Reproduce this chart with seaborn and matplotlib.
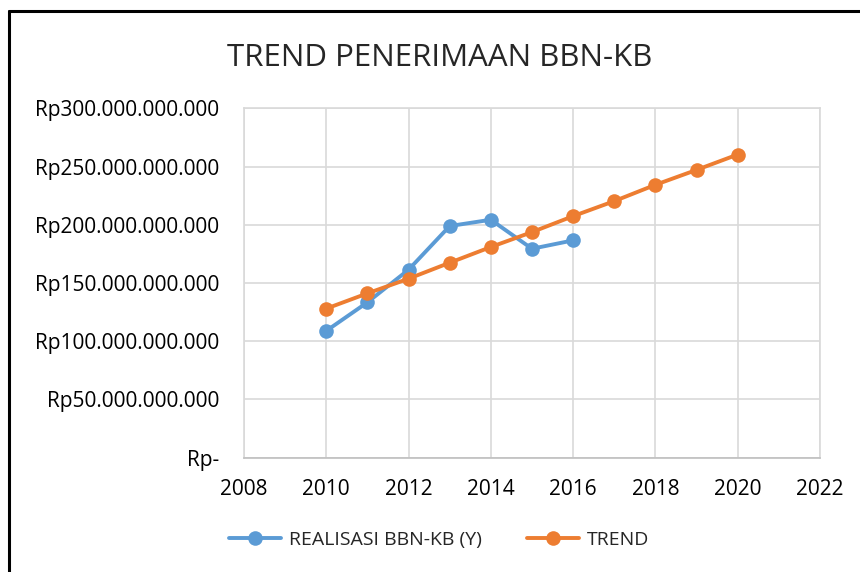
import matplotlib

matplotlib.use("Agg")
import matplotlib.pyplot as plt
from matplotlib.lines import Line2D
from matplotlib.ticker import FuncFormatter, MultipleLocator
import pandas as pd
import seaborn as sns

TITLE = "TREND PENERIMAAN BBN-KB"

REAL_YEARS = [2010, 2011, 2012, 2013, 2014, 2015, 2016]
REAL_VALUES = [108.9e9, 133.4e9, 161.4e9, 198.9e9, 204.3e9, 179.4e9, 186.6e9]

TREND_YEARS = [2010, 2011, 2012, 2013, 2014, 2015, 2016, 2017, 2018, 2019, 2020]
TREND_VALUES = [128.0e9, 141.1e9, 153.7e9, 167.4e9, 180.9e9, 193.7e9,
                207.4e9, 220.3e9, 234.3e9, 247.1e9, 260.3e9]

LABEL_REAL = "REALISASI BBN-KB (Y)"
LABEL_TREND = "TREND"
PALETTE = {LABEL_REAL: "#5B9BD5", LABEL_TREND: "#ED7D31"}


def rupiah(v, _pos=None):
    if v == 0:
        return "Rp-"
    return "Rp" + f"{v:,.0f}".replace(",", ".")


sns.set_theme(style="white")
plt.rcParams["font.family"] = ["Open Sans", "DejaVu Sans"]

df = pd.concat(
    [
        pd.DataFrame({"year": REAL_YEARS, "value": REAL_VALUES, "series": LABEL_REAL}),
        pd.DataFrame({"year": TREND_YEARS, "value": TREND_VALUES, "series": LABEL_TREND}),
    ],
    ignore_index=True,
)

fig = plt.figure(figsize=(8.6, 5.72), dpi=100)
ax = fig.add_axes([0.2837, 0.1998, 0.6698, 0.6109])

sns.lineplot(
    data=df, x="year", y="value", hue="series",
    hue_order=[LABEL_REAL, LABEL_TREND], palette=PALETTE,
    marker="o", markersize=10.5, markeredgewidth=0, linewidth=2.8,
    ax=ax, legend=True,
)

ax.set_xlim(2008, 2022)
ax.set_ylim(0, 300e9)
ax.xaxis.set_major_locator(MultipleLocator(2))
ax.yaxis.set_major_locator(MultipleLocator(50e9))
ax.yaxis.set_major_formatter(FuncFormatter(rupiah))
ax.grid(True, color="#D9D9D9", linewidth=1.2)
ax.set_axisbelow(True)
for side, spine in ax.spines.items():
    spine.set_color("#D9D9D9")
    spine.set_linewidth(1.2)
ax.spines["bottom"].set_color("#BFBFBF")
ax.tick_params(axis="both", length=0, labelsize=15, colors="#000000")
ax.tick_params(axis="y", pad=18)
ax.tick_params(axis="x", pad=15)
ax.set_xlabel("")
ax.set_ylabel("")

ax.legend(
    loc="center", bbox_to_anchor=(0.339, -0.236), ncol=2, frameon=False,
    fontsize=14, handlelength=2.7, columnspacing=2.3, handletextpad=0.4,
)

fig.text(0.511, 0.898, TITLE, ha="center", va="center", fontsize=22.5)

# chart frame (cropped on right and bottom)
fig.add_artist(Line2D([9 / 860, 1], [1 - 11 / 572] * 2, color="black", lw=2.2,
                      transform=fig.transFigure))
fig.add_artist(Line2D([9 / 860] * 2, [0, 1 - 11 / 572], color="black", lw=2.2,
                      transform=fig.transFigure))

fig.savefig("out.png", dpi=100)
